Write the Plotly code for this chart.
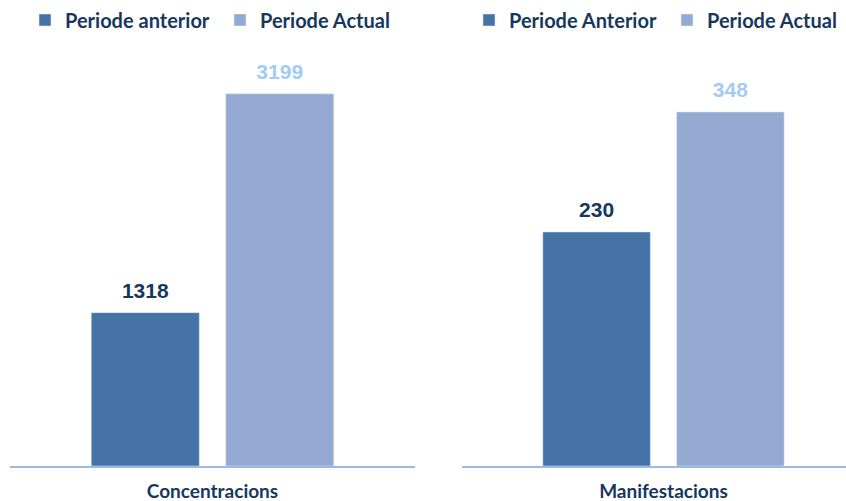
import plotly.graph_objects as go

# ---- data ----
panels = ["Concentracions", "Manifestacions"]
series_left = ["Periode anterior", "Periode Actual"]
series_right = ["Periode Anterior", "Periode Actual"]
values_prev = [1318, 230]
values_curr = [3199, 348]

DARK = "#4573A7"
LIGHT = "#95AAD2"
NAVY = "#17375E"
LABEL_LIGHT = "#A3CBF5"
AXIS_LINE = "#9DBBE0"

LEG_FONT = dict(family="Lato", size=20, color=NAVY, weight="bold")
NUM_FONT_SIZE = 21

fig = go.Figure()

names_per_panel = [series_left, series_right]
for i, cat in enumerate(panels):
    xa = "x" if i == 0 else "x2"
    ya = "y" if i == 0 else "y2"
    leg = "legend" if i == 0 else "legend2"
    names = names_per_panel[i]
    for j, (vals, col, lcol) in enumerate([(values_prev, DARK, NAVY), (values_curr, LIGHT, LABEL_LIGHT)]):
        fig.add_trace(go.Bar(
            x=[cat], y=[vals[i]], name=names[j], marker_color=col,
            xaxis=xa, yaxis=ya, legend=leg, offsetgroup=str(j),
            hoverinfo="skip",
        ))
        fig.add_trace(go.Scatter(
            x=[cat], y=[vals[i]], mode="text+markers", text=[str(vals[i])],
            textposition="top center",
            marker=dict(size=14, color="rgba(0,0,0,0)"),
            textfont=dict(family="Liberation Sans", size=NUM_FONT_SIZE, color=lcol, weight="bold"),
            xaxis=xa, yaxis=ya, showlegend=False, offsetgroup=str(j),
            hoverinfo="skip", cliponaxis=False,
        ))

W, H = 846, 501
base_frac = (H - 466) / H

common_x = dict(type="category", showline=True, linecolor=AXIS_LINE, linewidth=1.5,
                showgrid=False, zeroline=False, ticks="",
                tickfont=dict(family="Lato", size=19, color=NAVY, weight="bold"),
                ticklabelstandoff=7, fixedrange=True)
common_y = dict(visible=False, showgrid=False, zeroline=False, fixedrange=True)

fig.update_layout(
    width=W, height=H,
    margin=dict(l=0, r=0, t=0, b=0, autoexpand=False),
    paper_bgcolor="white", plot_bgcolor="white",
    barmode="group", bargap=0.336, bargroupgap=0.196,
    scattermode="group", scattergap=0.336,
    xaxis=dict(domain=[10 / W, 415 / W], range=[-0.5, 0.5], anchor="y", **common_x),
    yaxis=dict(domain=[base_frac, 1], range=[0, 4005], anchor="x", **common_y),
    xaxis2=dict(domain=[462 / W, 1], range=[-0.5, 0.453], anchor="y2", **common_x),
    yaxis2=dict(domain=[base_frac, 1], range=[0, 458], anchor="x2", **common_y),
    legend=dict(orientation="h", x=25 / W, y=1 - 20 / H, xanchor="left", yanchor="middle",
                font=LEG_FONT, entrywidth=150, bgcolor="rgba(0,0,0,0)", traceorder="normal"),
    legend2=dict(orientation="h", x=469 / W, y=1 - 20 / H, xanchor="left", yanchor="middle",
                 font=LEG_FONT, entrywidth=153, bgcolor="rgba(0,0,0,0)", traceorder="normal"),
    showlegend=True,
)

fig.write_html("out.html", config={"displayModeBar": False},
               post_script="document.body.style.margin='0';")
